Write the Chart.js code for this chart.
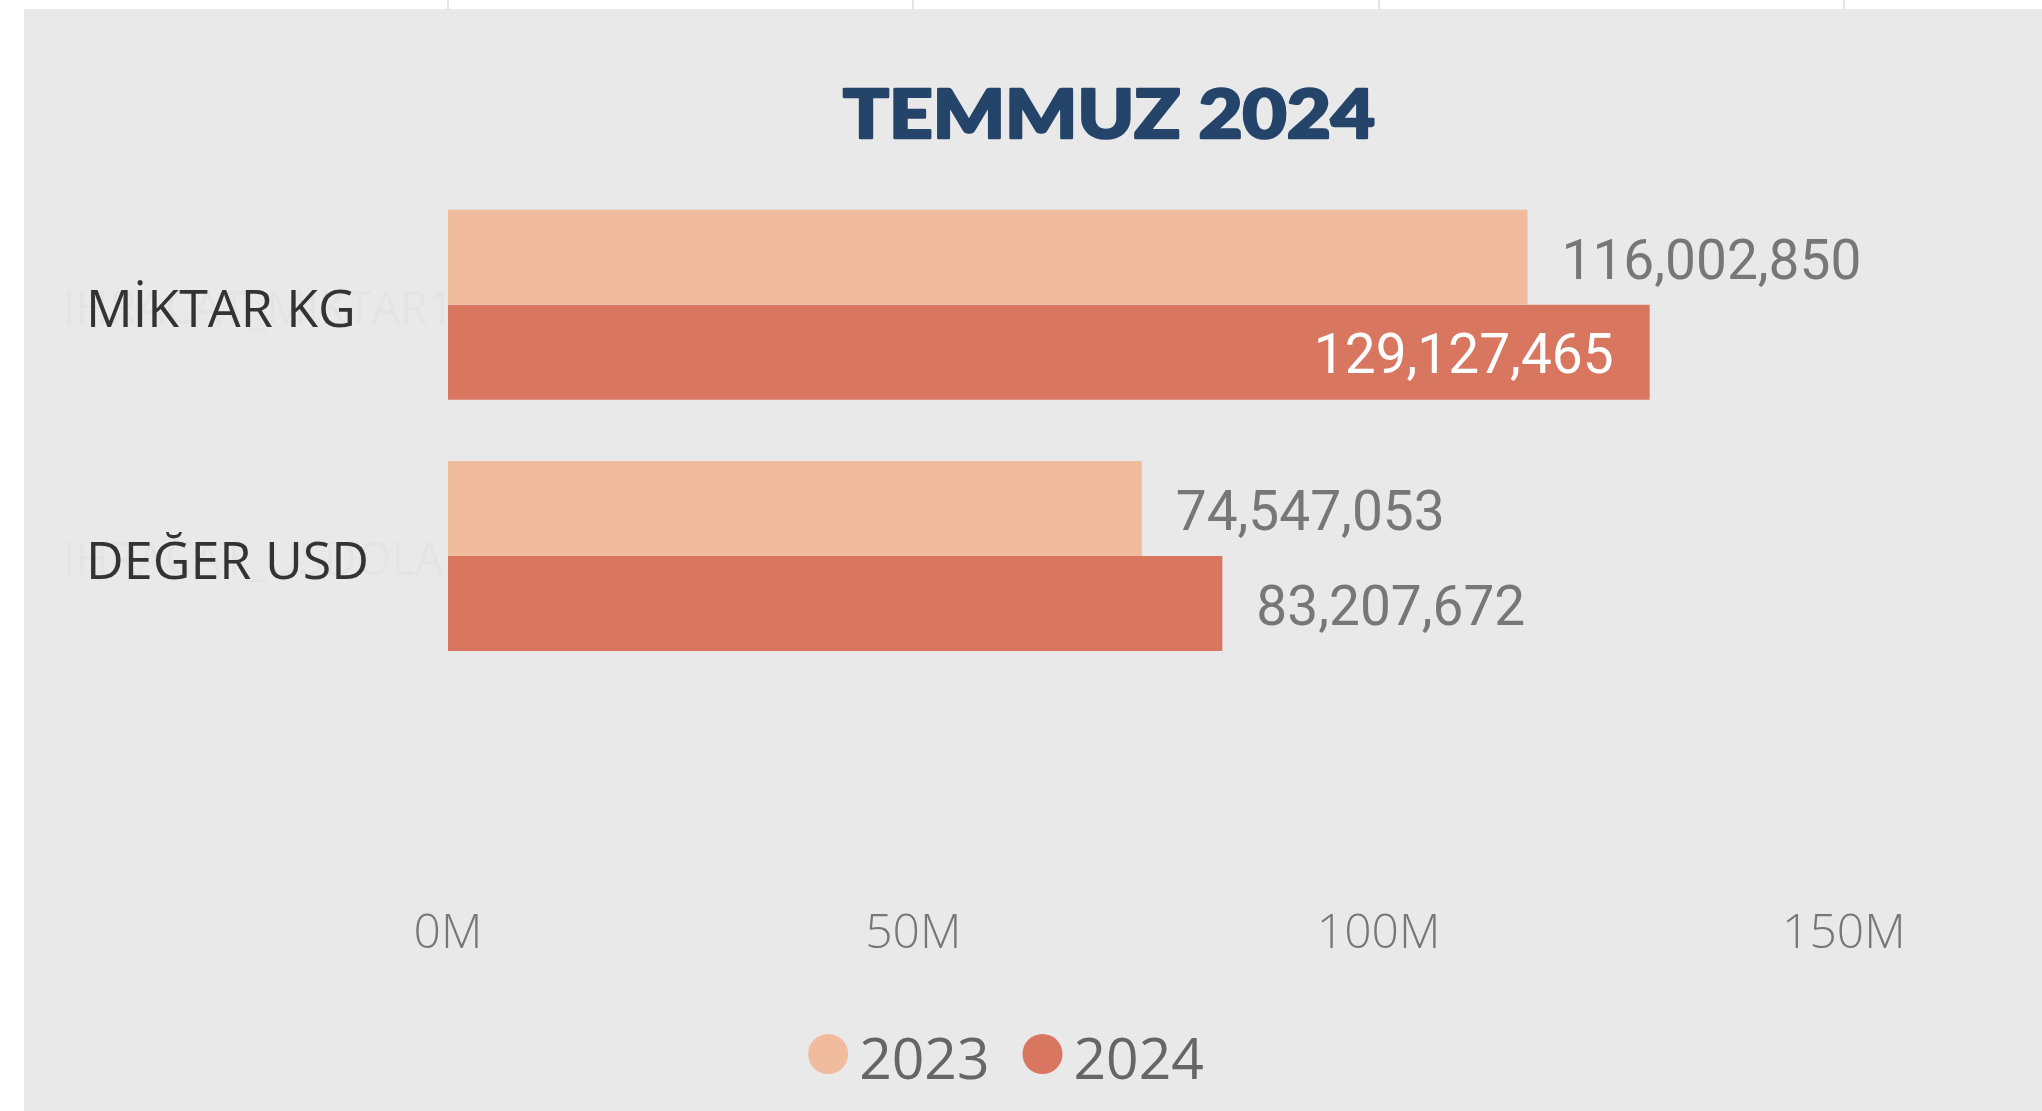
<!DOCTYPE html>
<html>
<head>
<meta charset="utf-8">
<script src="https://cdn.jsdelivr.net/npm/chart.js@4/dist/chart.umd.min.js"></script>
<style>
html,body{margin:0;padding:0;background:#fff;overflow:hidden}
#c{display:block}
</style>
</head>
<body>
<canvas id="c" width="2042" height="1111"></canvas>
<script>
// ---- data ----
const chartTitle = 'TEMMUZ 2024';
const categories = ['MİKTAR KG', 'DEĞER USD'];
const ghostLabels = ['IHRACAT_MIKTAR1', 'IHRACAT_USDOLAR'];
const seriesNames = ['2023', '2024'];
const values2023 = [116002850, 74547053];
const values2024 = [129127465, 83207672];
const xTickValues = [0, 50000000, 100000000, 150000000];
const xTickLabels = ['0M', '50M', '100M', '150M'];
const seriesColors = ['#F1BB9D', '#D9765F'];

// ---- plugins ----
const backgroundPlugin = {
  id: 'bgPanel',
  beforeDraw(chart) {
    const {ctx, scales} = chart;
    const x = scales.x;
    ctx.save();
    ctx.fillStyle = '#ffffff';
    ctx.fillRect(0, 0, chart.width, chart.height);
    ctx.strokeStyle = '#e4e4e4';
    ctx.lineWidth = 2;
    x.ticks.forEach(t => {
      const px = Math.round(x.getPixelForValue(t.value));
      ctx.beginPath();
      ctx.moveTo(px, 0);
      ctx.lineTo(px, 10);
      ctx.stroke();
    });
    ctx.fillStyle = '#e9e9e9';
    ctx.fillRect(24, 9, chart.width - 24, chart.height - 9);
    // ghost labels
    const y = scales.y;
    ctx.fillStyle = '#e4e4e4';
    ctx.font = '45px "Open Sans", sans-serif';
    ctx.textAlign = 'left';
    ctx.textBaseline = 'alphabetic';
    ghostLabels.forEach((g, i) => {
      ctx.fillText(g, 63, y.getPixelForValue(i) + 19);
    });
    ctx.restore();
  }
};

const titlePlugin = {
  id: 'customTitle',
  afterDraw(chart) {
    const ctx = chart.ctx;
    ctx.save();
    ctx.font = '900 66px Lato, "Liberation Sans", sans-serif';
    ctx.fillStyle = '#25446A';
    ctx.strokeStyle = '#25446A';
    ctx.lineWidth = 2.5;
    ctx.lineJoin = 'round';
    ctx.textAlign = 'center';
    ctx.textBaseline = 'alphabetic';
    const w = ctx.measureText(chartTitle).width;
    const sx = 532 / w;
    ctx.translate(1109, 138);
    ctx.scale(sx, 1);
    ctx.fillText(chartTitle, 0, 0);
    ctx.strokeText(chartTitle, 0, 0);
    ctx.restore();
  }
};

const valueLabelPlugin = {
  id: 'valueLabels',
  afterDatasetsDraw(chart) {
    const ctx = chart.ctx;
    const area = chart.chartArea;
    ctx.save();
    ctx.font = '55px Roboto, sans-serif';
    ctx.textBaseline = 'alphabetic';
    chart.data.datasets.forEach((ds, di) => {
      const meta = chart.getDatasetMeta(di);
      meta.data.forEach((el, i) => {
        const txt = ds.data[i].toLocaleString('en-US');
        const w = ctx.measureText(txt).width;
        const gap = 34;
        if (el.x + gap + w > area.right - 100) {
          ctx.fillStyle = '#ffffff';
          ctx.textAlign = 'right';
          ctx.fillText(txt, el.x - 36, el.y + 21);
        } else {
          ctx.fillStyle = '#777777';
          ctx.textAlign = 'left';
          ctx.fillText(txt, el.x + gap, el.y + 22);
        }
      });
    });
    ctx.restore();
  }
};

const legendPlugin = {
  id: 'customLegend',
  afterDraw(chart) {
    const ctx = chart.ctx;
    ctx.save();
    ctx.font = '57px "Open Sans", sans-serif';
    ctx.textBaseline = 'alphabetic';
    ctx.textAlign = 'left';
    const r = 20, textGap = 11, itemGap = 33;
    const items = chart.data.datasets.map(d => ({label: d.label, color: d.backgroundColor, w: ctx.measureText(d.label).width}));
    let total = 0;
    items.forEach((it, i) => { total += 2 * r + textGap + it.w + (i ? itemGap : 0); });
    let x = 1006 - total / 2;
    const cy = 1054, base = 1079;
    items.forEach((it, i) => {
      if (i) x += itemGap;
      ctx.fillStyle = it.color;
      ctx.beginPath();
      ctx.arc(x + r, cy, r, 0, Math.PI * 2);
      ctx.fill();
      x += 2 * r + textGap;
      ctx.fillStyle = '#666666';
      ctx.fillText(it.label, x, base);
      x += it.w;
    });
    ctx.restore();
  }
};

// ---- chart ----
new Chart(document.getElementById('c'), {
  type: 'bar',
  data: {
    labels: categories,
    datasets: [
      {label: seriesNames[0], data: values2023, backgroundColor: seriesColors[0], borderWidth: 0},
      {label: seriesNames[1], data: values2024, backgroundColor: seriesColors[1], borderWidth: 0}
    ]
  },
  options: {
    indexAxis: 'y',
    responsive: false,
    animation: false,
    devicePixelRatio: 1,
    categoryPercentage: 0.756,
    barPercentage: 1.0,
    layout: {padding: {left: 86, right: 12, top: 179, bottom: 0}},
    plugins: {
      legend: {display: false},
      title: {display: false},
      tooltip: {enabled: false}
    },
    scales: {
      x: {
        min: 0,
        max: 170000000,
        afterBuildTicks: s => { s.ticks = xTickValues.map(v => ({value: v})); },
        afterFit: s => { s.height = 1111 - 681.6; s.paddingLeft = 0; s.paddingRight = 0; },
        grid: {display: false},
        border: {display: false},
        ticks: {
          padding: 216,
          color: '#777777',
          font: {family: '"Open Sans", sans-serif', size: 48, weight: '300'},
          callback: v => xTickLabels[xTickValues.indexOf(v)]
        }
      },
      y: {
        afterFit: s => { s.width = 362; },
        grid: {display: false},
        border: {display: false},
        ticks: {
          crossAlign: 'far',
          labelOffset: 8,
          color: '#333333',
          font: {family: '"Open Sans", sans-serif', size: 52}
        }
      }
    }
  },
  plugins: [backgroundPlugin, titlePlugin, valueLabelPlugin, legendPlugin]
});
</script>
</body>
</html>
